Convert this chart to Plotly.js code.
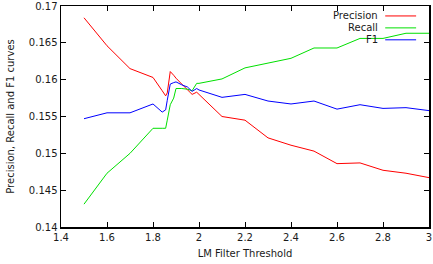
<!DOCTYPE html>
<html>
<head>
<meta charset="utf-8">
<script src="https://cdn.plot.ly/plotly-3.0.1.min.js"></script>
<style>
  html, body { margin: 0; padding: 0; background: #fff; }
  #chart { width: 433px; height: 264px; }
</style>
</head>
<body>
<div id="chart"></div>
<script>
// LM filter threshold sweep
const thresholds = [1.5, 1.6, 1.7, 1.8, 1.84, 1.855, 1.862, 1.875, 1.89, 1.9, 1.925, 1.95, 1.97, 1.99, 2.0,
                    2.1, 2.2, 2.3, 2.4, 2.5, 2.6, 2.7, 2.8, 2.9, 3.0];
const precision = [0.1684, 0.1646, 0.1615, 0.1603, 0.1585, 0.1578, 0.1582, 0.1611, 0.1606, 0.1602, 0.1594, 0.1586, 0.1580, 0.1583, 0.1580,
                   0.1550, 0.1545, 0.1521, 0.1511, 0.1503, 0.1486, 0.1487, 0.1477, 0.1473, 0.1467];
const recall    = [0.1431, 0.1473, 0.1500, 0.1534, 0.1534, 0.1534, 0.1545, 0.1566, 0.1575, 0.1588, 0.1588, 0.1587, 0.1585, 0.1595, 0.1595,
                   0.1601, 0.1616, 0.1623, 0.1629, 0.1643, 0.1643, 0.1656, 0.1656, 0.1663, 0.1663];
const f1        = [0.1547, 0.1555, 0.1555, 0.1567, 0.1556, 0.1559, 0.1572, 0.1594, 0.1596, 0.1597, 0.1593, 0.1590, 0.1584, 0.1588, 0.1586,
                   0.1576, 0.1580, 0.1571, 0.1567, 0.1571, 0.1560, 0.1566, 0.1561, 0.1562, 0.1558];

const seriesNames  = ['Precision', 'Recall', 'F1'];
const seriesColors = ['#ff0000', '#00e000', '#0000ff'];
const seriesValues = [precision, recall, f1];

const xTicks = [1.4, 1.6, 1.8, 2, 2.2, 2.4, 2.6, 2.8, 3];
const xTickText = ['1.4', '1.6', '1.8', '2', '2.2', '2.4', '2.6', '2.8', '3'];
const yTicks = [0.14, 0.145, 0.15, 0.155, 0.16, 0.165, 0.17];
const yTickText = ['0.14', '0.145', '0.15', '0.155', '0.16', '0.165', '0.17'];

const font = { family: 'DejaVu Sans, sans-serif', size: 10, color: '#1a1a1a' };

const traces = seriesValues.map((vals, i) => ({
  type: 'scatter',
  mode: 'lines',
  x: thresholds,
  y: vals,
  name: seriesNames[i],
  line: { color: seriesColors[i], width: 1 },
  showlegend: false,
  hoverinfo: 'skip'
}));

// gnuplot-style key: right-aligned label followed by a line sample
const keyTop = 0.955, keyStep = 0.054;
const annotations = seriesNames.map((n, i) => ({
  xref: 'paper', yref: 'paper',
  x: 0.866, y: keyTop - i * keyStep,
  xanchor: 'right', yanchor: 'middle',
  text: n, showarrow: false, font: font
}));
const shapes = seriesNames.map((n, i) => ({
  type: 'line', xref: 'paper', yref: 'paper',
  x0: 0.881, x1: 0.965,
  y0: keyTop - i * keyStep, y1: keyTop - i * keyStep,
  line: { color: seriesColors[i], width: 1 }
}));

const axisCommon = {
  showgrid: false, zeroline: false,
  showline: true, linecolor: '#000', linewidth: 1.5, mirror: 'allticks',
  ticks: 'inside', ticklen: 5, tickcolor: '#000', tickwidth: 1,
  tickfont: font
};

const layout = {
  width: 433, height: 264,
  margin: { l: 61, r: 4, t: 6, b: 37 },
  paper_bgcolor: '#fff', plot_bgcolor: '#fff',
  font: font,
  xaxis: Object.assign({}, axisCommon, {
    range: [1.4, 3], tickmode: 'array', tickvals: xTicks, ticktext: xTickText,
    title: { text: 'LM Filter Threshold', font: font, standoff: 8 }
  }),
  yaxis: Object.assign({}, axisCommon, {
    range: [0.14, 0.17], tickmode: 'array', tickvals: yTicks, ticktext: yTickText,
    title: { text: 'Precision, Recall and F1 curves', font: font, standoff: 12 }
  }),
  annotations: annotations,
  shapes: shapes
};

Plotly.newPlot('chart', traces, layout, { staticPlot: true, displayModeBar: false });
</script>
</body>
</html>
